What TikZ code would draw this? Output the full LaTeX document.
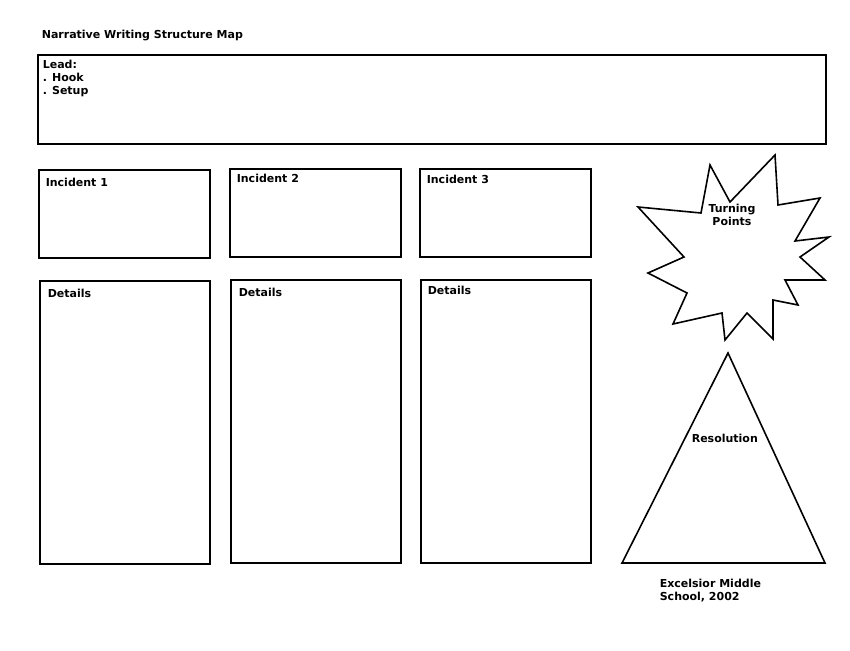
\documentclass[tikz,border=0pt]{standalone}
\usepackage{fontspec}
\setmainfont{DejaVu Sans}
\begin{document}
\begin{tikzpicture}[x=1pt,y=-1pt,line width=1.6pt,
  box/.style={draw,black},
  lbl/.style={anchor=north west,inner sep=0pt,font=\bfseries\fontsize{11}{13}\selectfont,align=left}]
\useasboundingbox (0,0) rectangle (850,650);
\node[lbl] (title) at (41,29) {Narrative Writing Structure Map};
\draw[box] (38,55) rectangle (826,144);
\node[lbl] (lead) at (42,59) {Lead:\\. Hook\\. Setup};
\draw[box] (39,170) rectangle (210,258);
\node[lbl] (i1) at (45,177) {Incident 1};
\draw[box] (230,169) rectangle (401,257);
\node[lbl] (i2) at (236,173) {Incident 2};
\draw[box] (420,169) rectangle (591,257);
\node[lbl] (i3) at (426,174) {Incident 3};
\draw[box] (40,281) rectangle (210,564);
\node[lbl] (d1) at (47,288) {Details};
\draw[box] (231,280) rectangle (401,563);
\node[lbl] (d2) at (238,287) {Details};
\draw[box] (421,280) rectangle (591,563);
\node[lbl] (d3) at (427,285) {Details};
\draw[box,line join=miter] (710,165)--(730,202)--(775,155)--(778,205)--(820,198)--(795,241)--(829,237)--(800,257)--(825,280)--(785,280)--(798,305)--(773,300)--(773,339)--(747,313)--(725,340)--(722,313)--(673,324)--(687,293)--(648,273)--(684,257)--(638,207)--(701,213)--cycle;
\node[lbl,align=center,anchor=center] (tp) at (732,215) {Turning\\Points};
\draw[box] (728,353)--(825,563)--(622,563)--cycle;
\node[lbl] (res) at (691,433) {Resolution};
\node[lbl] (ex) at (659,578) {Excelsior Middle\\School, 2002};
\end{tikzpicture}
\end{document}
